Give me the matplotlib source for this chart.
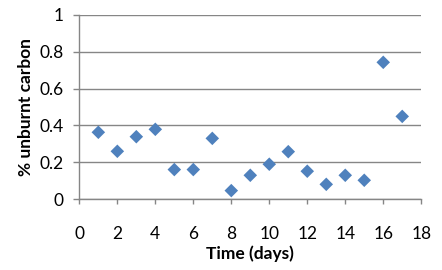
import matplotlib
matplotlib.use("Agg")
import matplotlib.pyplot as plt

days = [1, 2, 3, 4, 5, 6, 7, 8, 9, 10, 11, 12, 13, 14, 15, 16, 17]
unburnt = [0.363, 0.26, 0.339, 0.379, 0.161, 0.161, 0.330, 0.047, 0.130, 0.190,
           0.258, 0.152, 0.081, 0.130, 0.103, 0.742, 0.449]
xticks = [0, 2, 4, 6, 8, 10, 12, 14, 16, 18]
yticks = [0, 0.2, 0.4, 0.6, 0.8, 1]
ytick_labels = ["0", "0.2", "0.4", "0.6", "0.8", "1"]

plt.rcParams['font.family'] = ['Lato', 'DejaVu Sans']

fig = plt.figure(figsize=(4.42, 2.70), dpi=100)
ax = fig.add_axes([0.1795, 0.2619, 0.7735, 0.6837])

ax.scatter(days, unburnt, marker='D', s=6.9**2, color='#4F81BD', edgecolors='none', zorder=3)

ax.set_xlim(0, 18)
ax.set_ylim(0, 1)
ax.set_xticks(xticks)
ax.set_yticks(yticks)
ax.set_yticklabels(ytick_labels)

grid_c = '#868686'
ax.yaxis.grid(True, color=grid_c, linewidth=1)
ax.set_axisbelow(True)
for s in ['top', 'right']:
    ax.spines[s].set_visible(False)
for s in ['left', 'bottom']:
    ax.spines[s].set_color(grid_c)
    ax.spines[s].set_linewidth(1)

ax.tick_params(axis='y', length=4.5, color=grid_c, width=1, labelsize=12.5, pad=7)
ax.tick_params(axis='x', length=3.5, color=grid_c, width=1, labelsize=12.5, pad=16)

ax.set_xlabel('Time (days)', fontsize=12.5, fontweight='bold', labelpad=2)
ax.set_ylabel('% unburnt carbon', fontsize=12.5, fontweight='bold', labelpad=4)

fig.savefig('out.png', dpi=100)
